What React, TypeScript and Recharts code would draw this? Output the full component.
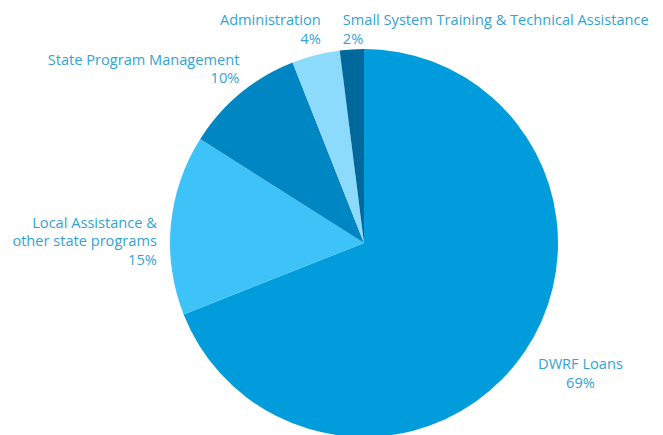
import React from "react"
import { PieChart, Pie, Cell } from "recharts"

const categories = [
  "DWRF Loans",
  "Local Assistance & other state programs",
  "State Program Management",
  "Administration",
  "Small System Training & Technical Assistance",
]
const shares = [69, 15, 10, 4, 2]
const labelLines = [
  ["DWRF Loans", "69%"],
  ["Local Assistance &", "other state programs", "15%"],
  ["State Program Management", "10%"],
  ["Administration", "4%"],
  ["Small System Training & Technical Assistance", "2%"],
]
const colors = ["#009cdb", "#3ec3f8", "#0086c3", "#8ddbfc", "#00689a"]

// offsets from the slice's outer edge point at its mid angle
const labelLayout = [
  { anchor: "middle", dx: 56, dy: 11 },
  { anchor: "end", dx: -14, dy: -3 },
  { anchor: "end", dx: -1, dy: -35 },
  { anchor: "end", dx: 5, dy: -36 },
  { anchor: "start", dx: -9, dy: -30 },
]

const data = categories.map((name, i) => ({ name, value: shares[i] }))

const RAD = Math.PI / 180

const renderLabel = (props: any) => {
  const { cx, cy, midAngle, outerRadius, index } = props
  const x = cx + outerRadius * Math.cos(-midAngle * RAD)
  const y = cy + outerRadius * Math.sin(-midAngle * RAD)
  const lay = labelLayout[index]
  const lines = labelLines[index]
  return (
    <text
      x={x + lay.dx}
      y={y + lay.dy}
      textAnchor={lay.anchor}
      fill="#33a3d3"
      fontSize={14.6}
      fontFamily="Open Sans"
      dominantBaseline="central"
    >
      {lines.map((l, j) => (
        <tspan key={j} x={x + lay.dx} dy={j === 0 ? 0 : 18.5}>
          {l}
        </tspan>
      ))}
    </text>
  )
}

export default function App() {
  return (
    <div style={{ width: 663, height: 435, background: "#fff" }}>
      <style>{`body{margin:0}`}</style>
      <PieChart width={663} height={435} margin={{ top: 0, right: 0, bottom: 0, left: 0 }}>
        <Pie
          data={data}
          dataKey="value"
          nameKey="name"
          cx={364}
          cy={243}
          outerRadius={194}
          startAngle={90}
          endAngle={-270}
          stroke="none"
          label={renderLabel}
          labelLine={false}
          isAnimationActive={false}
        >
          {data.map((d, i) => (
            <Cell key={d.name} fill={colors[i]} />
          ))}
        </Pie>
      </PieChart>
    </div>
  )
}
